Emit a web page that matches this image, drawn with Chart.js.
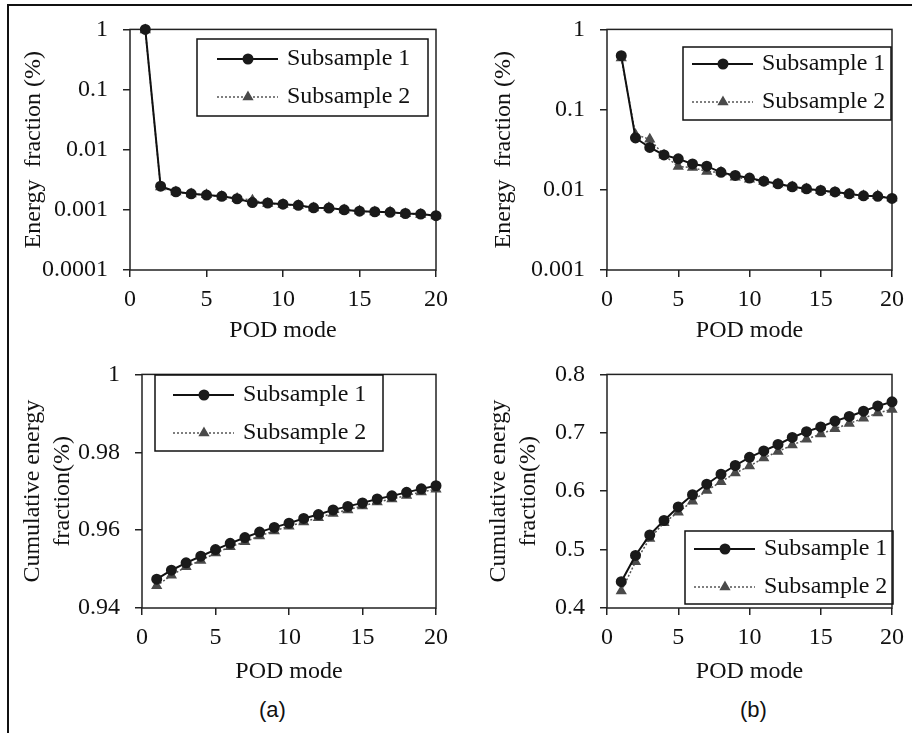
<!DOCTYPE html>
<html>
<head>
<meta charset="utf-8">
<script src="https://cdn.jsdelivr.net/npm/chart.js@4.4.1/dist/chart.umd.min.js"></script>
<style>
    body { margin: 0; background: #fff; }
    #page { position: relative; width: 912px; height: 733px; overflow: hidden; background: #fff; }
    #frame { position: absolute; left: 7px; top: 4px; width: 930px; height: 760px; border-top: 2px solid #111; border-left: 2px solid #111; }
    canvas { position: absolute; }
    .caption { position: absolute; font-family: "Liberation Sans", Arial, sans-serif; font-size: 22px; color: #111; }
</style>
</head>
<body>
<div id="page">
    <div id="frame"></div>
    <canvas id="energyGraphA" width="456" height="350" style="left:0px;top:0px"></canvas>
    <canvas id="energyGraphB" width="456" height="350" style="left:456px;top:0px"></canvas>
    <canvas id="cumulativeGraphA" width="456" height="350" style="left:0px;top:345px"></canvas>
    <canvas id="cumulativeGraphB" width="456" height="350" style="left:456px;top:345px"></canvas>
    <div class="caption" style="left:259px;top:697px">(a)</div>
    <div class="caption" style="left:740px;top:697px">(b)</div>
</div>
<script>
var podMode = [1, 2, 3, 4, 5, 6, 7, 8, 9, 10, 11, 12, 13, 14, 15, 16, 17, 18, 19, 20];

// energy fraction per mode, case (a)
var energyA1 = [1.0, 0.00247, 0.00200, 0.00185, 0.00176, 0.00168, 0.00153, 0.00132, 0.00130, 0.00124, 0.00119, 0.00108, 0.00107, 0.00100, 0.00095, 0.00093, 0.00091, 0.00087, 0.00085, 0.00080];
var energyA2 = [0.98, 0.00240, 0.00198, 0.00183, 0.00178, 0.00166, 0.00155, 0.00145, 0.00128, 0.00123, 0.00118, 0.00107, 0.00108, 0.00099, 0.00096, 0.00092, 0.00092, 0.00086, 0.00084, 0.00079];
// energy fraction per mode, case (b)
var energyB1 = [0.47, 0.0443, 0.0337, 0.0272, 0.0243, 0.0210, 0.0197, 0.0165, 0.0151, 0.0140, 0.0128, 0.0119, 0.0109, 0.0103, 0.0098, 0.0094, 0.0089, 0.0084, 0.0083, 0.0078];
var energyB2 = [0.44, 0.0488, 0.0427, 0.0270, 0.0195, 0.0190, 0.0169, 0.0165, 0.0143, 0.0135, 0.0127, 0.0118, 0.0108, 0.0102, 0.0097, 0.0093, 0.0088, 0.0084, 0.0084, 0.0079];
// cumulative energy fraction
var cumulativeA1 = [0.9474, 0.9497, 0.9516, 0.9533, 0.9550, 0.9566, 0.9581, 0.9595, 0.9607, 0.9618, 0.9630, 0.9640, 0.9652, 0.9661, 0.9670, 0.9680, 0.9688, 0.9697, 0.9706, 0.9714];
var cumulativeA2 = [0.9457, 0.9484, 0.9506, 0.9522, 0.9541, 0.9557, 0.9570, 0.9585, 0.9598, 0.9610, 0.9621, 0.9632, 0.9643, 0.9652, 0.9662, 0.9672, 0.9680, 0.9689, 0.9698, 0.9705];
var cumulativeB1 = [0.445, 0.490, 0.525, 0.550, 0.573, 0.594, 0.612, 0.629, 0.644, 0.658, 0.669, 0.680, 0.692, 0.702, 0.710, 0.720, 0.728, 0.737, 0.746, 0.753];
var cumulativeB2 = [0.429, 0.479, 0.519, 0.546, 0.564, 0.583, 0.601, 0.616, 0.631, 0.643, 0.657, 0.668, 0.679, 0.689, 0.698, 0.707, 0.716, 0.725, 0.734, 0.740];

var seriesNames = ["Subsample 1", "Subsample 2"];

// tick values and labels
var modeTicks = [0, 5, 10, 15, 20];
var modeTickLabels = ["0", "5", "10", "15", "20"];
var energyTicksA = [0.0001, 0.001, 0.01, 0.1, 1];
var energyTickLabelsA = ["0.0001", "0.001", "0.01", "0.1", "1"];
var energyTicksB = [0.001, 0.01, 0.1, 1];
var energyTickLabelsB = ["0.001", "0.01", "0.1", "1"];
var cumulativeTicksA = [0.94, 0.96, 0.98, 1];
var cumulativeTickLabelsA = ["0.94", "0.96", "0.98", "1"];
var cumulativeTicksB = [0.4, 0.5, 0.6, 0.7, 0.8];
var cumulativeTickLabelsB = ["0.4", "0.5", "0.6", "0.7", "0.8"];

var serif = "'Liberation Serif', 'Times New Roman', serif";
var ink = "#111";

// box around the plot area
var plotFrame = {
    id: "plotFrame",
    beforeDatasetsDraw: function (chart) {
        var a = chart.chartArea;
        var ctx = chart.ctx;
        ctx.save();
        ctx.lineWidth = 1.5;
        ctx.strokeStyle = "#222";
        ctx.strokeRect(a.left, a.top, a.right - a.left, a.bottom - a.top);
        ctx.restore();
    },
};

// legend drawn inside a bordered box
var boxLegend = {
    id: "boxLegend",
    afterDraw: function (chart, args, opts) {
        var ctx = chart.ctx;
        ctx.save();
        ctx.lineWidth = 1.5;
        ctx.strokeStyle = ink;
        ctx.strokeRect(opts.x, opts.y, opts.w, opts.h);
        chart.data.datasets.forEach(function (ds, i) {
            var y = opts.y + opts.rows[i];
            var x0 = opts.x + opts.pad;
            var x1 = x0 + 61;
            ctx.beginPath();
            ctx.setLineDash(ds.borderDash || []);
            ctx.lineWidth = ds.borderWidth;
            ctx.strokeStyle = ds.borderColor;
            ctx.moveTo(x0, y);
            ctx.lineTo(x1, y);
            ctx.stroke();
            ctx.setLineDash([]);
            ctx.fillStyle = ds.pointBackgroundColor;
            ctx.strokeStyle = ds.pointBorderColor;
            Chart.helpers.drawPoint(ctx, { pointStyle: ds.pointStyle, radius: ds.pointRadius, borderWidth: 1, rotation: 0 }, opts.x + opts.pad + 31, y);
            ctx.fillStyle = ink;
            ctx.font = "24px " + serif;
            ctx.textBaseline = "middle";
            ctx.textAlign = "left";
            ctx.fillText(ds.label, x1 + 9, y);
        });
        ctx.restore();
    },
};

function to_points(values) {
    return podMode.map(function (m, i) {
        return { x: m, y: values[i] };
    });
}

function get_datasets(values1, values2) {
    return [
        {
            label: seriesNames[0],
            data: to_points(values1),
            borderColor: "#111",
            borderWidth: 2,
            pointStyle: "circle",
            pointRadius: 4.5,
            pointBackgroundColor: "#1a1a1a",
            pointBorderColor: "#1a1a1a",
            clip: false,
        },
        {
            label: seriesNames[1],
            data: to_points(values2),
            borderColor: "#555",
            borderWidth: 1.5,
            borderDash: [2, 2],
            pointStyle: "triangle",
            pointRadius: 5,
            pointBackgroundColor: "#4a4a4a",
            pointBorderColor: "#4a4a4a",
            clip: false,
        },
    ];
}

function get_graph_config(values1, values2, layout) {
    var yScale = {
        type: layout.logY ? "logarithmic" : "linear",
        min: layout.yTicks[0],
        max: layout.yTicks[layout.yTicks.length - 1],
        afterBuildTicks: function (scale) {
            scale.ticks = layout.yTicks.map(function (v) { return { value: v }; });
        },
        afterFit: function (scale) {
            scale.width = layout.yWidth;
        },
        ticks: {
            padding: 15,
            color: ink,
            font: { family: serif, size: 24 },
            callback: function (value) {
                var i = layout.yTicks.findIndex(function (t) { return Math.abs(t - value) < t * 1e-6; });
                return i >= 0 ? layout.yLabels[i] : "";
            },
        },
        grid: { drawOnChartArea: false, drawTicks: true, tickLength: 7, color: "#222", lineWidth: 1.5 },
        border: { display: false },
        title: {
            display: true,
            text: layout.yTitle,
            color: ink,
            font: { family: serif, size: 24, lineHeight: 1.25 },
            padding: { top: layout.yTitlePad, bottom: 0 },
        },
    };
    var xScale = {
        type: "linear",
        min: 0,
        max: 20,
        afterBuildTicks: function (scale) {
            scale.ticks = modeTicks.map(function (v) { return { value: v }; });
        },
        afterFit: function (scale) {
            scale.height = layout.xHeight;
        },
        ticks: {
            padding: 8,
            color: ink,
            maxRotation: 0,
            font: { family: serif, size: 24 },
            callback: function (value) {
                var i = modeTicks.indexOf(value);
                return i >= 0 ? modeTickLabels[i] : "";
            },
        },
        grid: { drawOnChartArea: false, drawTicks: true, tickLength: 7, color: "#222", lineWidth: 1.5 },
        border: { display: false },
        title: {
            display: true,
            text: "POD mode",
            color: ink,
            font: { family: serif, size: 24 },
            padding: { top: 0, bottom: layout.xTitlePad },
        },
    };
    return {
        type: "line",
        data: { datasets: get_datasets(values1, values2) },
        options: {
            responsive: false,
            animation: false,
            devicePixelRatio: 1,
            layout: { padding: { left: 0, top: layout.top, right: layout.right, bottom: 0 } },
            scales: { x: xScale, y: yScale },
            plugins: {
                legend: { display: false },
                tooltip: { enabled: false },
                boxLegend: layout.legend,
            },
        },
        plugins: [plotFrame, boxLegend],
    };
}

function create_energy_graphs() {
    new Chart("energyGraphA", get_graph_config(energyA1, energyA2, {
        logY: true, yTicks: energyTicksA, yLabels: energyTickLabelsA,
        yTitle: "Energy  fraction (%)", yWidth: 130, yTitlePad: 19, xHeight: 80, xTitlePad: 5,
        top: 26, right: 19,
        legend: { x: 197, y: 39, w: 231, h: 77, pad: 20, rows: [20, 58] },
    }));
    new Chart("energyGraphB", get_graph_config(energyB1, energyB2, {
        logY: true, yTicks: energyTicksB, yLabels: energyTickLabelsB,
        yTitle: "Energy  fraction (%)", yWidth: 151, yTitlePad: 33, xHeight: 80, xTitlePad: 5,
        top: 26, right: 12,
        legend: { x: 227, y: 47, w: 208, h: 73, pad: 9, rows: [17, 55] },
    }));
}

function create_cumulative_graphs() {
    new Chart("cumulativeGraphA", get_graph_config(cumulativeA1, cumulativeA2, {
        logY: false, yTicks: cumulativeTicksA, yLabels: cumulativeTickLabelsA,
        yTitle: ["Cumulative energy", "fraction(%)"], yWidth: 142, yTitlePad: 18, xHeight: 87, xTitlePad: 9,
        top: 19, right: 19,
        legend: { x: 155, y: 30, w: 228, h: 76, pad: 18, rows: [20, 58] },
    }));
    new Chart("cumulativeGraphB", get_graph_config(cumulativeB1, cumulativeB2, {
        logY: false, yTicks: cumulativeTicksB, yLabels: cumulativeTickLabelsB,
        yTitle: ["Cumulative energy", "fraction(%)"], yWidth: 151, yTitlePad: 28, xHeight: 87, xTitlePad: 9,
        top: 19, right: 12,
        legend: { x: 229, y: 186, w: 208, h: 73, pad: 9, rows: [18, 56] },
    }));
}

create_energy_graphs();
create_cumulative_graphs();
</script>
</body>
</html>
